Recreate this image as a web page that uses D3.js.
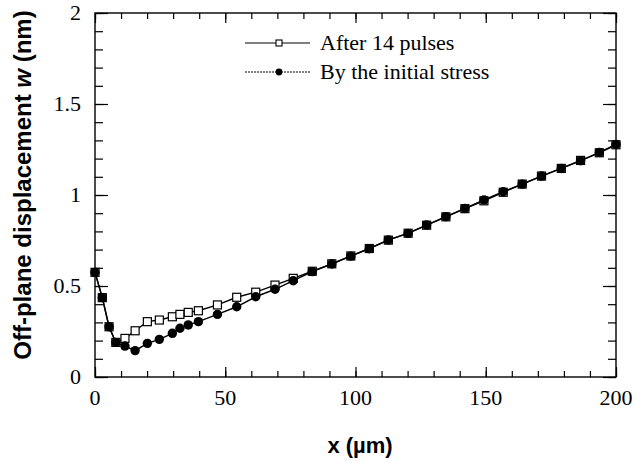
<!DOCTYPE html>
<html>
<head>
<meta charset="utf-8">
<script src="https://cdn.jsdelivr.net/npm/d3@7"></script>
<style>
  body { margin: 0; background: #fff; }
  svg { display: block; }
</style>
</head>
<body>
<script>
// x positions (µm) shared by both series
const xValues = [0, 2.8, 5.4, 8, 11.5, 15.4, 20.1, 24.7, 29.7, 32.6, 35.8, 39.7, 47, 54.4, 61.7,
  69.1, 76.1, 83.4, 90.9, 98.2, 105.3, 112.6, 120.2, 127.3, 134.7, 142, 149.3, 156.7, 164,
  171.4, 179, 186.4, 193.6, 200];

const afterPulses = [0.575, 0.436, 0.276, 0.19, 0.212, 0.254, 0.304, 0.313, 0.331, 0.344, 0.355,
  0.364, 0.396, 0.438, 0.466, 0.505, 0.542, 0.581, 0.622, 0.665, 0.706, 0.752, 0.79, 0.834,
  0.88, 0.925, 0.968, 1.015, 1.06, 1.104, 1.146, 1.19, 1.232, 1.276];

const initialStress = [0.575, 0.436, 0.276, 0.19, 0.17, 0.145, 0.185, 0.207, 0.24, 0.268, 0.286,
  0.304, 0.344, 0.386, 0.441, 0.482, 0.529, 0.579, 0.621, 0.664, 0.705, 0.753, 0.789, 0.835,
  0.881, 0.926, 0.973, 1.018, 1.06, 1.104, 1.146, 1.188, 1.234, 1.278];

const seriesNames = ["After 14 pulses", "By the initial stress"];
const xTickValues = [0, 50, 100, 150, 200];
const yTickValues = [0, 0.5, 1, 1.5, 2];

const width = 635;
const height = 461;
const plotLeft = 95, plotRight = 616, plotTop = 13, plotBottom = 377;

const svg = d3.select("body").append("svg")
  .attr("width", width)
  .attr("height", height);

const x = d3.scaleLinear().domain([0, 200]).range([plotLeft, plotRight]);
const y = d3.scaleLinear().domain([0, 2]).range([plotBottom, plotTop]);

const serif = "'Liberation Serif', 'Times New Roman', serif";
const sans = "'Liberation Sans', Arial, sans-serif";

// frame
svg.append("rect")
  .attr("x", plotLeft).attr("y", plotTop)
  .attr("width", plotRight - plotLeft).attr("height", plotBottom - plotTop)
  .attr("fill", "none").attr("stroke", "#000").attr("stroke-width", 1.4);

// ticks on all four sides, pointing inward
const axisStyle = g => {
  g.select(".domain").remove();
  g.selectAll("line").attr("stroke", "#000").attr("stroke-width", 1.2);
};

const xMinor = d3.range(0, 201, 10);
const yMinor = d3.range(0, 2.001, 0.1).map(v => +v.toFixed(1));

svg.append("g").attr("transform", `translate(0,${plotBottom})`)
  .call(d3.axisTop(x).tickValues(xMinor).tickSize(6).tickFormat(""))
  .call(axisStyle);
svg.append("g").attr("transform", `translate(0,${plotBottom})`)
  .call(d3.axisTop(x).tickValues(xTickValues).tickSize(10).tickFormat(""))
  .call(axisStyle);
svg.append("g").attr("transform", `translate(0,${plotTop})`)
  .call(d3.axisBottom(x).tickValues(xMinor).tickSize(6).tickFormat(""))
  .call(axisStyle);
svg.append("g").attr("transform", `translate(0,${plotTop})`)
  .call(d3.axisBottom(x).tickValues(xTickValues).tickSize(10).tickFormat(""))
  .call(axisStyle);

svg.append("g").attr("transform", `translate(${plotLeft},0)`)
  .call(d3.axisRight(y).tickValues(yMinor).tickSize(8).tickFormat(""))
  .call(axisStyle);
svg.append("g").attr("transform", `translate(${plotLeft},0)`)
  .call(d3.axisRight(y).tickValues(yTickValues).tickSize(13).tickFormat(""))
  .call(axisStyle);
svg.append("g").attr("transform", `translate(${plotRight},0)`)
  .call(d3.axisLeft(y).tickValues(yMinor).tickSize(8).tickFormat(""))
  .call(axisStyle);
svg.append("g").attr("transform", `translate(${plotRight},0)`)
  .call(d3.axisLeft(y).tickValues(yTickValues).tickSize(13).tickFormat(""))
  .call(axisStyle);

// tick labels
svg.append("g").selectAll("text").data(xTickValues).enter().append("text")
  .attr("x", d => x(d))
  .attr("y", 405)
  .attr("text-anchor", "middle")
  .style("font-family", serif).style("font-size", "22px")
  .text(d => d);

svg.append("g").selectAll("text").data(yTickValues).enter().append("text")
  .attr("x", 81)
  .attr("y", d => y(d) + 7)
  .attr("text-anchor", "end")
  .style("font-family", serif).style("font-size", "22px")
  .text(d => d);

// axis titles
svg.append("text")
  .attr("x", 360).attr("y", 453)
  .attr("text-anchor", "middle")
  .style("font-family", sans).style("font-size", "22px").style("font-weight", "bold")
  .text("x (µm)");

const yTitle = svg.append("text")
  .attr("transform", "translate(31,185) rotate(-90)")
  .attr("text-anchor", "middle")
  .style("font-family", sans).style("font-size", "24px").style("font-weight", "bold");
yTitle.append("tspan").text("Off-plane displacement ");
yTitle.append("tspan").style("font-style", "italic").text("w");
yTitle.append("tspan").text(" (nm)");

// series
const pulsesData = xValues.map((v, i) => ({ x: v, y: afterPulses[i] }));
const stressData = xValues.map((v, i) => ({ x: v, y: initialStress[i] }));

const line = d3.line().x(d => x(d.x)).y(d => y(d.y));

svg.append("path").datum(pulsesData)
  .attr("d", line).attr("fill", "none").attr("stroke", "#000").attr("stroke-width", 1.4);
svg.append("path").datum(stressData)
  .attr("d", line).attr("fill", "none").attr("stroke", "#000").attr("stroke-width", 1.4);

const sq = 8;
svg.append("g").selectAll("rect").data(pulsesData).enter().append("rect")
  .attr("x", d => x(d.x) - sq / 2)
  .attr("y", d => y(d.y) - sq / 2)
  .attr("width", sq).attr("height", sq)
  .attr("fill", "#fff").attr("stroke", "#000").attr("stroke-width", 1.2);

svg.append("g").selectAll("circle").data(stressData).enter().append("circle")
  .attr("cx", d => x(d.x))
  .attr("cy", d => y(d.y))
  .attr("r", 4.7)
  .attr("fill", "#000");

// legend
const legend = svg.append("g");
const rows = [43, 72];

legend.append("line")
  .attr("x1", 245).attr("x2", 310).attr("y1", rows[0]).attr("y2", rows[0])
  .attr("stroke", "#000").attr("stroke-width", 1.2);
legend.append("rect")
  .attr("x", 276).attr("y", rows[0] - 3).attr("width", 6).attr("height", 6)
  .attr("fill", "#fff").attr("stroke", "#000").attr("stroke-width", 1.1);

legend.append("line")
  .attr("x1", 245).attr("x2", 310).attr("y1", rows[1]).attr("y2", rows[1])
  .attr("stroke", "#000").attr("stroke-width", 1.1).attr("stroke-dasharray", "2,1");
legend.append("circle")
  .attr("cx", 279).attr("cy", rows[1]).attr("r", 3.4).attr("fill", "#000");

legend.selectAll("text").data(seriesNames).enter().append("text")
  .attr("x", 320)
  .attr("y", (d, i) => rows[i] + 7)
  .style("font-family", serif).style("font-size", "22px")
  .text(d => d);
</script>
</body>
</html>
